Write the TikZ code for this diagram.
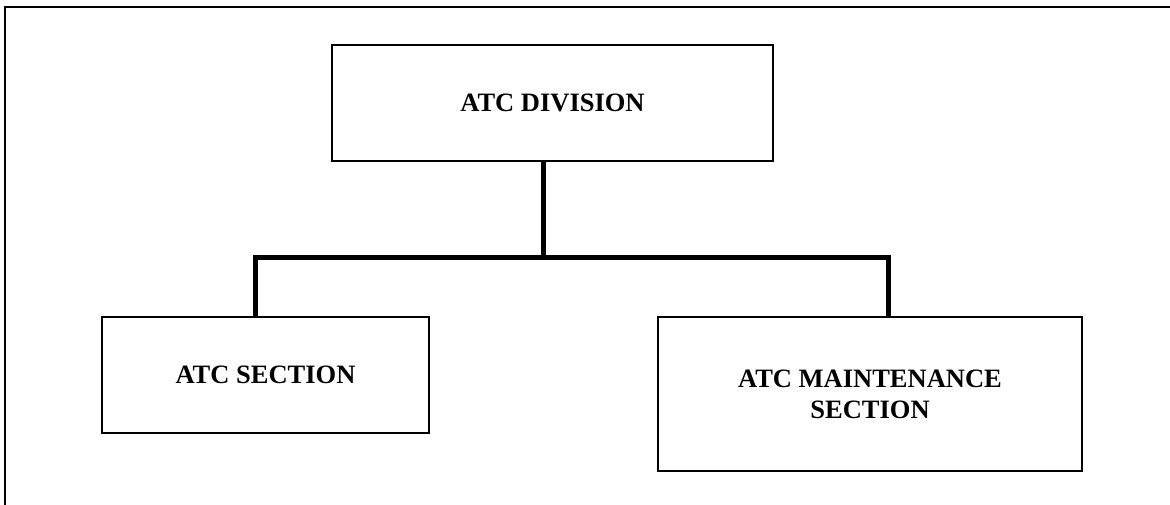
\documentclass[tikz,border=0pt]{standalone}
\usepackage{fontspec}
\setmainfont{Liberation Serif}
\usetikzlibrary{positioning}
\usetikzlibrary{calc}
\tikzset{unit/.style={rectangle, draw, line width=2.2pt, align=center,
        font=\fontsize{26.5}{31}\selectfont\bfseries, inner sep=0pt}}
\tikzset{link/.style={draw, line width=5pt}}
\tikzset{frame/.style={draw, line width=2.4pt}}

\begin{document}
\begin{tikzpicture}[x=1pt, y=-1pt]
    \useasboundingbox (0,0) rectangle (1170,504);
    % The border round the chart (its right and bottom edges fall outside).
    \draw [frame] (5,7) rectangle (1190,520);

    % ------- Boxes ------- %
    \node [unit, minimum width=441pt, minimum height=116pt] (division) at (552.5,103) {ATC DIVISION};
    \node [unit, minimum width=327pt, minimum height=116pt] (section) at (265.5,375) {ATC SECTION};
    \node [unit, minimum width=424pt, minimum height=154pt] (maint) at (870,394) {ATC MAINTENANCE\\SECTION};

    % ------- Connectors ------- %
    \coordinate (hub) at (543,257);
    \coordinate (busL) at (255,257);
    \coordinate (busR) at (888,257);

    \draw [link] (hub |- division.south) -- (hub);
    \draw [link] (busL |- section.north) -- (busL) -- (busR) -- (busR |- maint.north);
\end{tikzpicture}
\end{document}
